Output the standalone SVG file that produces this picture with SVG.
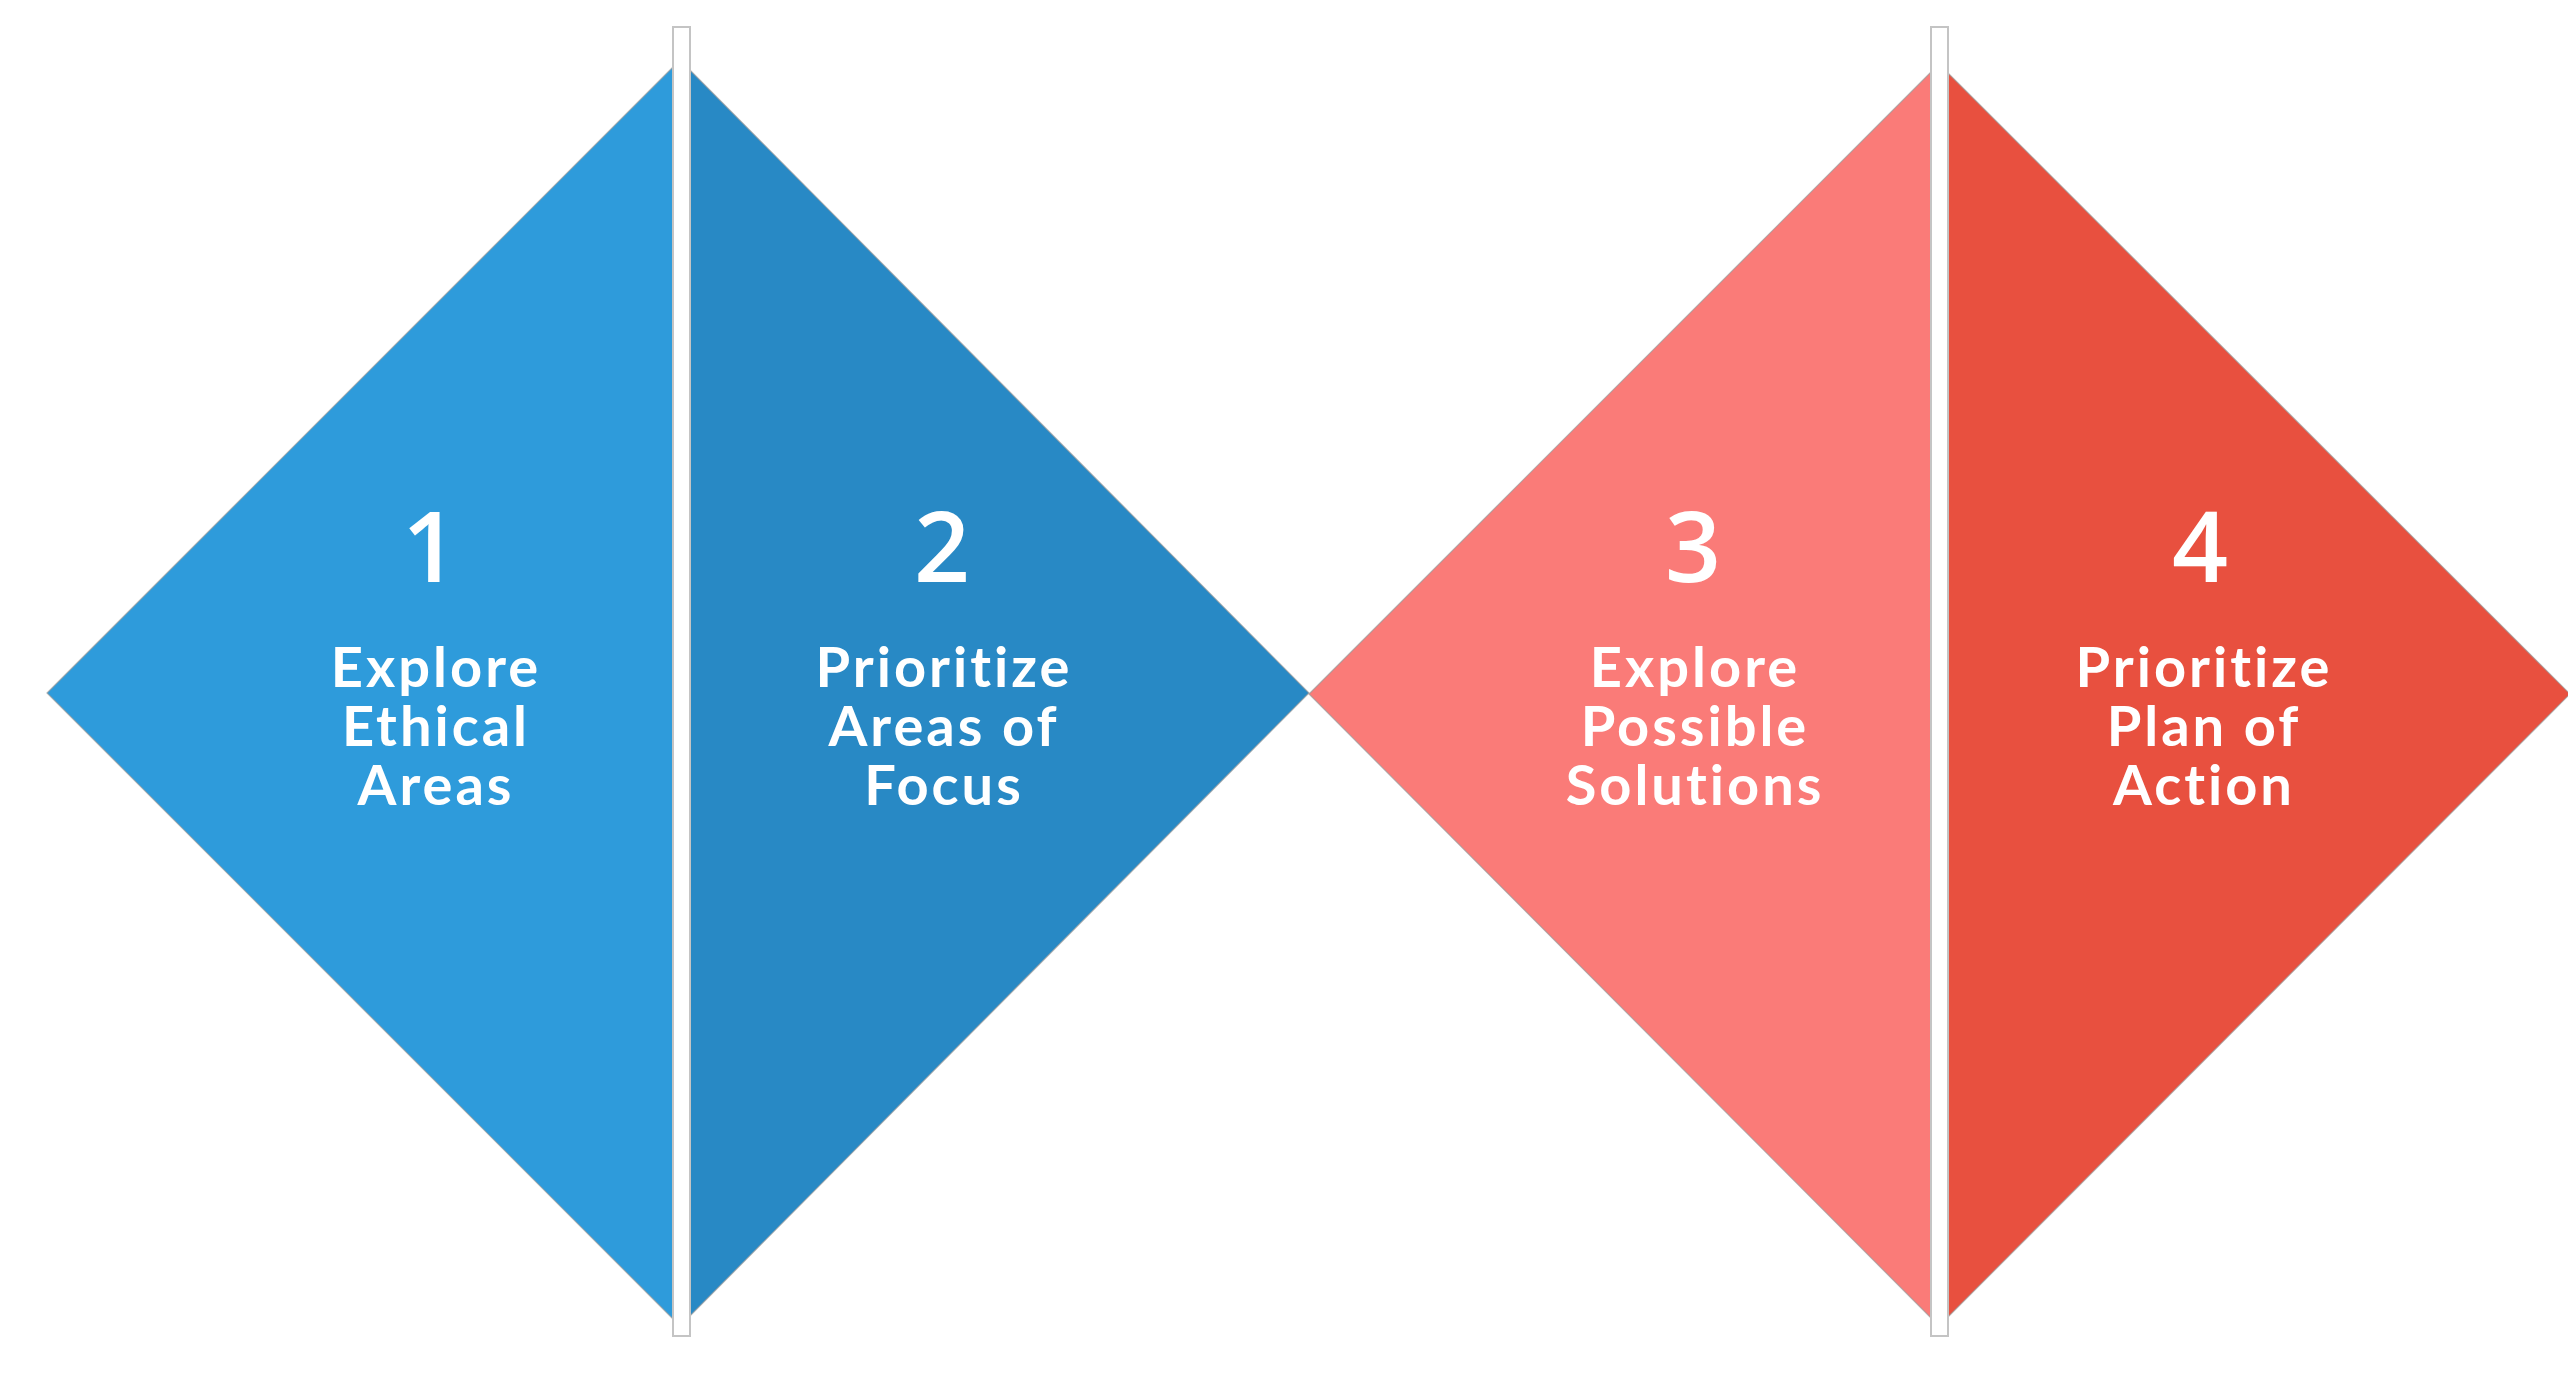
<svg xmlns="http://www.w3.org/2000/svg" width="2568" height="1386" viewBox="0 0 2568 1386">
<style>
.edge{stroke:#9a9a9a;stroke-width:1.2;stroke-opacity:0.7}
.bar{fill:#ffffff;stroke:#c4c4c4;stroke-width:2}
.num{font-family:"Open Sans","Liberation Sans",sans-serif;font-weight:600;font-size:98px;fill:#ffffff;text-anchor:middle}
.lbl{font-family:Lato,"Open Sans","Liberation Sans",sans-serif;font-weight:700;font-size:56px;letter-spacing:3px;fill:#ffffff;text-anchor:middle}
</style>
<rect width="2568" height="1386" fill="#ffffff"/>
<g id="step1">
<polygon class="edge" points="47,693 680,60 680,1326" fill="#2E9BDB"/>
<text class="num" x="430" y="582">1</text>
<text class="lbl" x="436" y="687">Explore</text>
<text class="lbl" x="436" y="746">Ethical</text>
<text class="lbl" x="436" y="805">Areas</text>
</g>
<g id="step2">
<polygon class="edge" points="680,60 1309,693 680,1326" fill="#2889C5"/>
<text class="num" x="942" y="582">2</text>
<text class="lbl" x="944" y="687">Prioritize</text>
<text class="lbl" x="944" y="746">Areas of</text>
<text class="lbl" x="944" y="805">Focus</text>
</g>
<g id="step3">
<polygon class="edge" points="1309,694 1939,64 1939,1326" fill="#FA7B78"/>
<text class="num" x="1693" y="582">3</text>
<text class="lbl" x="1695" y="687">Explore</text>
<text class="lbl" x="1695" y="746">Possible</text>
<text class="lbl" x="1695" y="805">Solutions</text>
</g>
<g id="step4">
<polygon class="edge" points="1939,64 2570,694 1939,1326" fill="#E8503F"/>
<text class="num" x="2200" y="582">4</text>
<text class="lbl" x="2204" y="687">Prioritize</text>
<text class="lbl" x="2204" y="746">Plan of</text>
<text class="lbl" x="2204" y="805">Action</text>
</g>
<g id="connectors">
<rect class="bar" x="673" y="27" width="17" height="1309"/>
<rect class="bar" x="1931" y="27" width="17" height="1309"/>
</g>
</svg>
